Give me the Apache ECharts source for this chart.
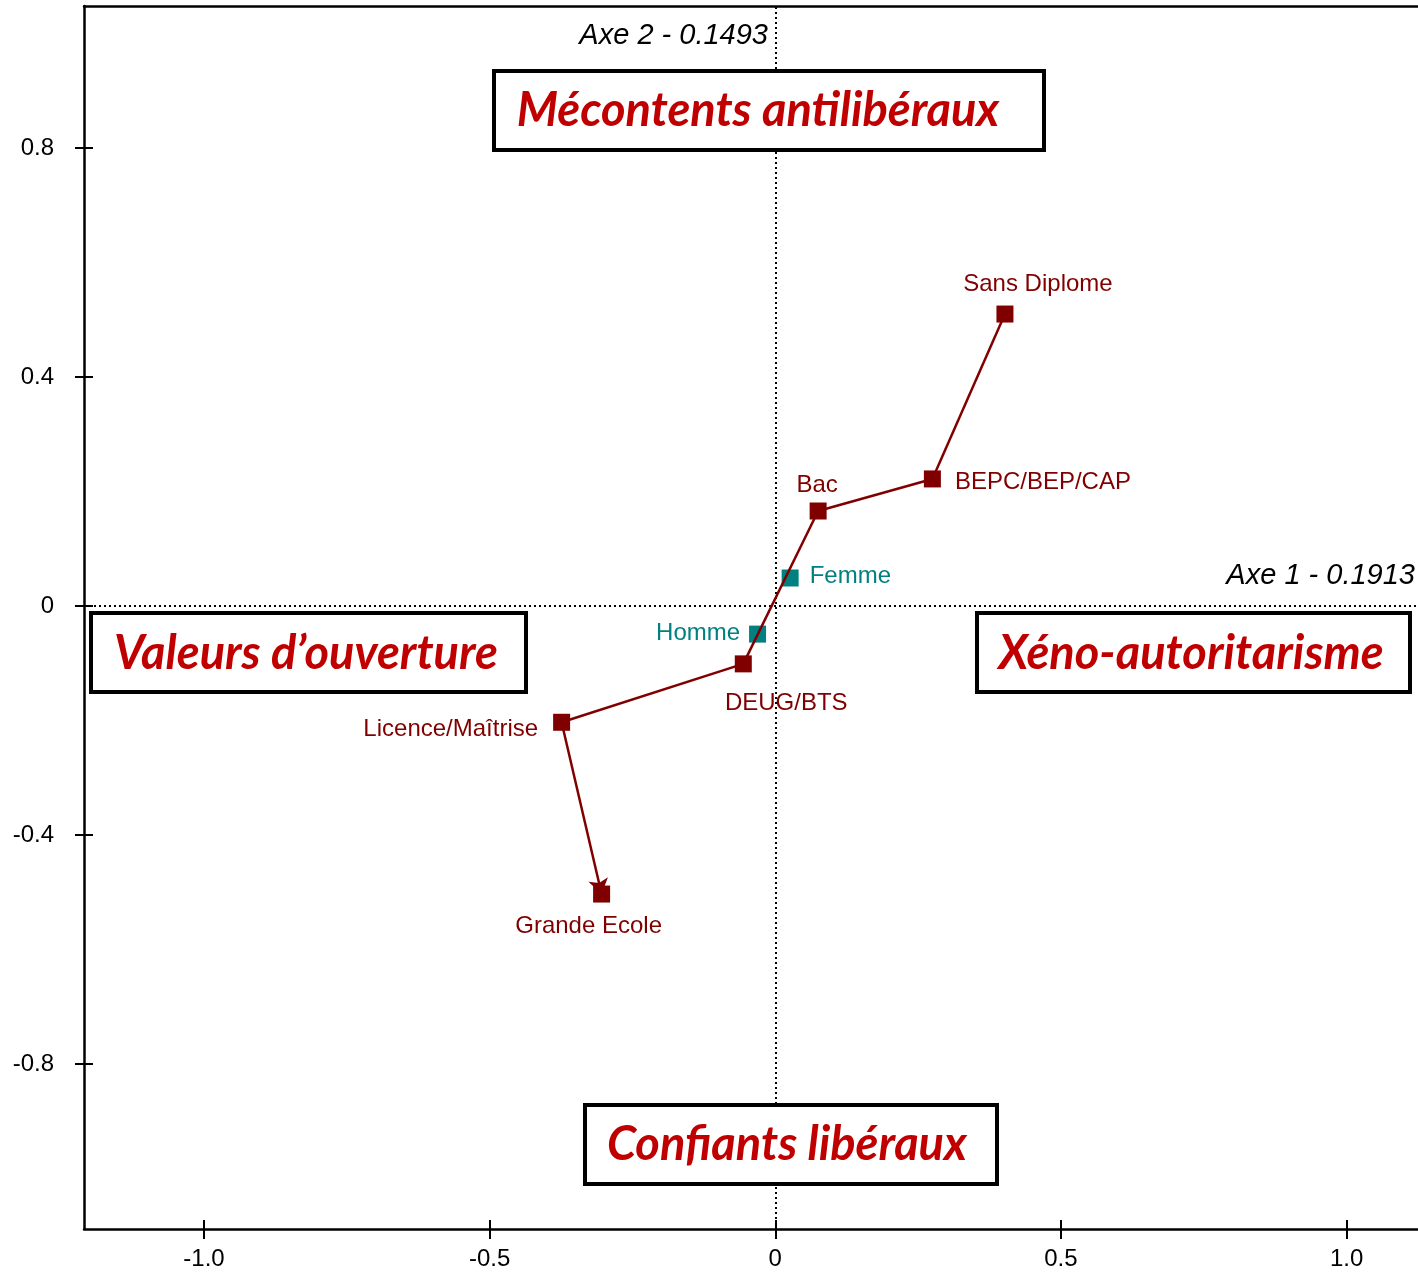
<!DOCTYPE html>
<html>
<head>
<meta charset="utf-8">
<script src="https://cdn.jsdelivr.net/npm/echarts@6/dist/echarts.min.js"></script>
<style>
  html, body { margin: 0; padding: 0; background: #fff; }
  #chart { width: 1418px; height: 1273px; }
</style>
</head>
<body>
<div id="chart"></div>
<script>
// diplômes (trajectoire), coordonnées sur les axes 1 et 2
const diplomes = ['Sans Diplome', 'BEPC/BEP/CAP', 'Bac', 'DEUG/BTS', 'Licence/Maîtrise', 'Grande Ecole']
const diplomeX = [0.402, 0.275, 0.075, -0.056, -0.374, -0.304]
const diplomeY = [0.510, 0.222, 0.166, -0.101, -0.203, -0.503]

// sexe
const sexes = ['Femme', 'Homme']
const sexeX = [0.026, -0.031]
const sexeY = [0.049, -0.049]

// graduations
const xTicks = [-1, -0.5, 0, 0.5, 1]
const xTickLabels = ['-1.0', '-0.5', '0', '0.5', '1.0']
const yTicks = [0.8, 0.4, 0, -0.4, -0.8]
const yTickLabels = ['0.8', '0.4', '0', '-0.4', '-0.8']

// titres des axes
const axe1 = 'Axe 1 - 0.1913'
const axe2 = 'Axe 2 - 0.1493'

// placement des étiquettes (position, décalage)
const labelPlacement = {
  'Sans Diplome': ['top', [33, -4]],
  'BEPC/BEP/CAP': ['right', [9, 3]],
  'Bac': ['top', [-1, 0]],
  'DEUG/BTS': ['bottom', [43, 14]],
  'Licence/Maîtrise': ['left', [-10, 7]],
  'Grande Ecole': ['bottom', [-13, 7]],
  'Femme': ['right', [6, -2]],
  'Homme': ['left', [-4, -1]],
}

const DARK_RED = '#800000'
const TEAL = '#008080'
const BOX_RED = '#c00000'
const pointFont = '"Liberation Sans", Arial, sans-serif'
const boxFont = 'Lato, "Open Sans", sans-serif'

const chart = echarts.init(document.getElementById('chart'))

const tickLabel = (labels, values) => (v) => {
  const i = values.findIndex((t) => Math.abs(t - v) < 1e-9)
  return i >= 0 ? labels[i] : ''
}

const pointData = (names, xs, ys) =>
  names.map((name, i) => {
    const [pos, off] = labelPlacement[name]
    return { name, value: [xs[i], ys[i]], label: { position: pos, offset: off } }
  })

// trajectoire : segments successifs, flèche sur le dernier
const n = diplomeX.length
const segments = diplomeX.slice(0, n - 1).map((x, i) => ({
  coords: [[x, diplomeY[i]], [diplomeX[i + 1], diplomeY[i + 1]]],
  symbol: i === n - 2 ? ['none', 'arrow'] : ['none', 'none'],
}))

// encadrés des zones
const zoneBox = (text, x, y, w, h, tx, ty) => ({
  type: 'group',
  z: 100,
  children: [
    {
      type: 'rect',
      z: 100,
      shape: { x, y, width: w, height: h },
      style: { fill: '#fff', stroke: '#000', lineWidth: 4 },
    },
    {
      type: 'text',
      z: 101,
      style: {
        x: tx, y: ty, text,
        fill: BOX_RED,
        font: 'italic bold 47px ' + boxFont,
        align: 'center', verticalAlign: 'middle',
      },
    },
  ],
})

const option = {
  animation: false,
  backgroundColor: '#fff',
  grid: { left: 84, right: 0, top: 6, bottom: 44 },
  xAxis: [
    {
      type: 'value', min: -1.21, max: 1.125, position: 'bottom',
      splitLine: { show: false },
      axisLine: { onZero: false, lineStyle: { color: '#000', width: 2.5 } },
      axisTick: { length: 10, customValues: xTicks, lineStyle: { color: '#000', width: 2 } },
      axisLabel: {
        customValues: xTicks, formatter: tickLabel(xTickLabels, xTicks),
        color: '#000', fontSize: 24, fontFamily: '"Liberation Sans", Arial, sans-serif', margin: 18,
      },
    },
    {
      type: 'value', min: -1.21, max: 1.125, position: 'bottom',
      splitLine: { show: false },
      axisLine: { show: false, onZero: false },
      axisTick: { inside: true, length: 9, customValues: xTicks, lineStyle: { color: '#000', width: 2 } },
      axisLabel: { show: false },
    },
    {
      type: 'value', min: -1.21, max: 1.125, position: 'top',
      splitLine: { show: false },
      axisLine: { onZero: false, lineStyle: { color: '#000', width: 2.5 } },
      axisTick: { show: false },
      axisLabel: { show: false },
    },
  ],
  yAxis: [
    {
      type: 'value', min: -1.088, max: 1.048, position: 'left',
      splitLine: { show: false },
      axisLine: { onZero: false, lineStyle: { color: '#000', width: 2.5 } },
      axisTick: { length: 9, customValues: yTicks, lineStyle: { color: '#000', width: 2 } },
      axisLabel: {
        customValues: yTicks, formatter: tickLabel(yTickLabels, yTicks),
        color: '#000', fontSize: 24, fontFamily: '"Liberation Sans", Arial, sans-serif', margin: 30,
      },
    },
    {
      type: 'value', min: -1.088, max: 1.048, position: 'left',
      splitLine: { show: false },
      axisLine: { show: false, onZero: false },
      axisTick: { inside: true, length: 9, customValues: yTicks, lineStyle: { color: '#000', width: 2 } },
      axisLabel: { show: false },
    },
  ],
  series: [
    {
      // axes factoriels en pointillés
      type: 'scatter', data: [], silent: true,
      markLine: {
        symbol: 'none', silent: true, label: { show: false },
        lineStyle: { color: '#000', type: [2, 3], width: 2 },
        data: [{ xAxis: 0 }, { yAxis: 0 }],
      },
    },
    {
      type: 'scatter', symbol: 'rect', symbolSize: 17,
      itemStyle: { color: DARK_RED, opacity: 1 },
      label: { show: true, formatter: '{b}', color: DARK_RED, fontSize: 24, fontFamily: pointFont },
      data: pointData(diplomes, diplomeX, diplomeY),
      z: 4,
    },
    {
      // trajectoire des diplômes
      type: 'lines', coordinateSystem: 'cartesian2d',
      symbolSize: 15,
      lineStyle: { color: DARK_RED, width: 2.5, opacity: 1 },
      data: segments,
      z: 5,
    },
    {
      type: 'scatter', symbol: 'rect', symbolSize: 17,
      itemStyle: { color: TEAL, opacity: 1 },
      label: { show: true, formatter: '{b}', color: TEAL, fontSize: 24, fontFamily: pointFont },
      data: pointData(sexes, sexeX, sexeY),
      z: 2,
    },
  ],
  graphic: [
    {
      type: 'text',
      style: {
        x: 768, y: 36, text: axe2, align: 'right', verticalAlign: 'middle',
        font: 'italic 29px "Liberation Sans", Arial, sans-serif', fill: '#000',
      },
    },
    {
      type: 'text',
      style: {
        x: 1415, y: 576, text: axe1, align: 'right', verticalAlign: 'middle',
        font: 'italic 29px "Liberation Sans", Arial, sans-serif', fill: '#000',
      },
    },
    zoneBox('Mécontents antilibéraux', 494, 71, 550, 79, 758, 111),
    zoneBox('Valeurs d’ouverture', 91, 613, 435, 79, 306, 654),
    zoneBox('Xéno-autoritarisme', 977, 613, 433, 79, 1191, 654),
    zoneBox('Confiants libéraux', 585, 1105, 412, 79, 787, 1145),
  ],
}

chart.setOption(option)
</script>
</body>
</html>
